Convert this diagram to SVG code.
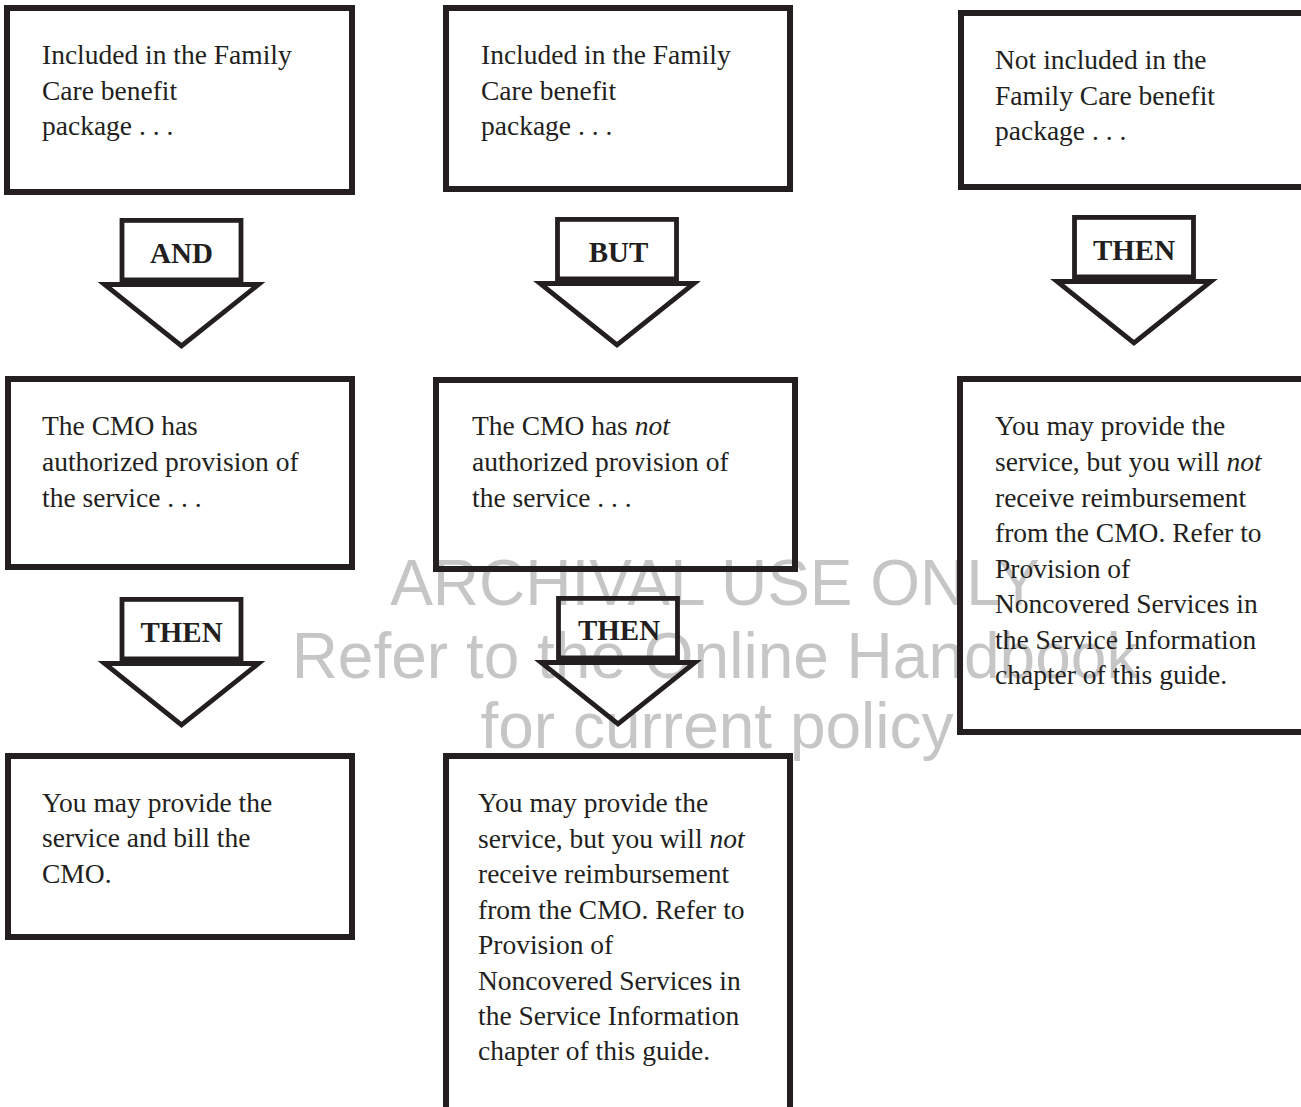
<svg xmlns="http://www.w3.org/2000/svg" width="1301" height="1107" viewBox="0 0 1301 1107">
<style>
.wm{font-family:"Liberation Sans",Arial,sans-serif;font-size:64px;fill:#c6c6c6;text-anchor:middle}
.box{fill:none;stroke:#231f20;stroke-width:6}
.t{font-family:"Liberation Serif","Times New Roman",serif;font-size:27.5px;fill:#231f20}
.lab{font-family:"Liberation Serif","Times New Roman",serif;font-size:29px;font-weight:bold;fill:#231f20;text-anchor:middle}
.ar{fill:none;stroke:#231f20;stroke-width:4.8;stroke-linejoin:miter;stroke-miterlimit:10}
</style>
<defs>
<g id="arrow">
<rect class="ar" x="-59.5" y="2.4" width="119" height="59.5"/>
<polygon class="ar" points="-77,66.5 77,66.5 0,128"/>
</g>
</defs>
<g id="watermark">
<text class="wm" x="715" y="605">ARCHIVAL USE ONLY</text>
<text class="wm" x="715" y="678">Refer to the Online Handbook</text>
<text class="wm" x="717" y="748">for current policy</text>
</g>
<g id="connectors">
<g id="arrow-and"><use href="#arrow" x="181.5" y="218"/><text class="lab" x="181.5" y="263">AND</text></g>
<g id="arrow-but"><use href="#arrow" x="617" y="217"/><text class="lab" x="618.5" y="262">BUT</text></g>
<g id="arrow-then-right"><use href="#arrow" x="1134" y="215"/><text class="lab" x="1134" y="260">THEN</text></g>
<g id="arrow-then-left"><use href="#arrow" x="181.5" y="597"/><text class="lab" x="181.5" y="642">THEN</text></g>
<g id="arrow-then-mid"><use href="#arrow" x="618" y="596"/><text class="lab" x="619" y="640">THEN</text></g>
</g>
<g id="n1">
<rect class="box" x="7" y="8" width="345" height="184"/>
<text class="t" x="42"><tspan x="42" y="64">Included in the Family</tspan><tspan x="42" y="100">Care benefit</tspan><tspan x="42" y="135">package . . .</tspan></text>
</g>
<g id="n2">
<rect class="box" x="446" y="8" width="344" height="181"/>
<text class="t"><tspan x="481" y="64">Included in the Family</tspan><tspan x="481" y="100">Care benefit</tspan><tspan x="481" y="135">package . . .</tspan></text>
</g>
<g id="n3">
<rect class="box" x="961" y="13" width="346" height="174"/>
<text class="t"><tspan x="995" y="69">Not included in the</tspan><tspan x="995" y="105">Family Care benefit</tspan><tspan x="995" y="140">package . . .</tspan></text>
</g>
<g id="n4">
<rect class="box" x="8" y="379" width="344" height="188"/>
<text class="t"><tspan x="42" y="435">The CMO has</tspan><tspan x="42" y="471">authorized provision of</tspan><tspan x="42" y="507">the service . . .</tspan></text>
</g>
<g id="n5">
<rect class="box" x="436" y="380" width="359" height="189"/>
<text class="t"><tspan x="472" y="435">The CMO has <tspan font-style="italic">not</tspan></tspan><tspan x="472" y="471">authorized provision of</tspan><tspan x="472" y="507">the service . . .</tspan></text>
</g>
<g id="n6">
<rect class="box" x="960" y="379" width="347" height="353"/>
<text class="t"><tspan x="995" y="435">You may provide the</tspan><tspan x="995" y="471">service, but you will <tspan font-style="italic">not</tspan></tspan><tspan x="995" y="507">receive reimbursement</tspan><tspan x="995" y="542">from the CMO. Refer to</tspan><tspan x="995" y="578">Provision of</tspan><tspan x="995" y="613">Noncovered Services in</tspan><tspan x="995" y="649">the Service Information</tspan><tspan x="995" y="684">chapter of this guide.</tspan></text>
</g>
<g id="n7">
<rect class="box" x="8" y="756" width="344" height="181"/>
<text class="t"><tspan x="42" y="812">You may provide the</tspan><tspan x="42" y="847">service and bill the</tspan><tspan x="42" y="883">CMO.</tspan></text>
</g>
<g id="n8">
<rect class="box" x="446" y="756" width="344" height="370"/>
<text class="t"><tspan x="478" y="812">You may provide the</tspan><tspan x="478" y="848">service, but you will <tspan font-style="italic">not</tspan></tspan><tspan x="478" y="883">receive reimbursement</tspan><tspan x="478" y="919">from the CMO. Refer to</tspan><tspan x="478" y="954">Provision of</tspan><tspan x="478" y="990">Noncovered Services in</tspan><tspan x="478" y="1025">the Service Information</tspan><tspan x="478" y="1060">chapter of this guide.</tspan></text>
</g>
</svg>
